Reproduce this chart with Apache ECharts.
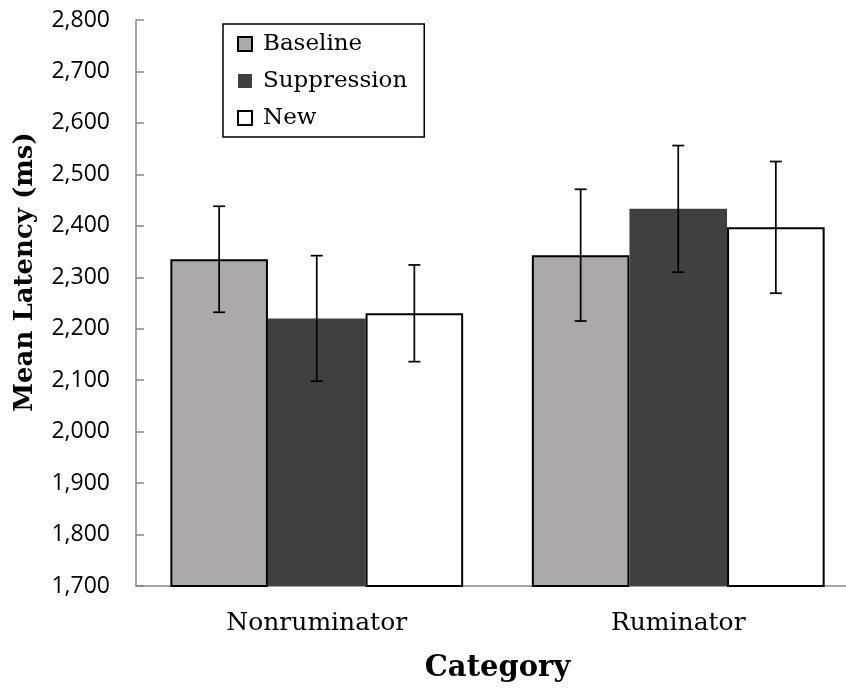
<!DOCTYPE html>
<html>
<head>
<meta charset="utf-8">
<script src="https://cdn.jsdelivr.net/npm/echarts@6/dist/echarts.min.js"></script>
<style>html,body{margin:0;padding:0;background:#fff;overflow:hidden;width:846px;height:691px;}#chart{width:859px;height:691px;}</style>
</head>
<body>
<div id="chart"></div>
<script>
const categories = ['Nonruminator', 'Ruminator'];
const seriesNames = ['Baseline', 'Suppression', 'New'];
const baseline = [2335, 2343];
const suppression = [2220, 2433];
const newVals = [2230, 2397];
const baselineErr = [103, 128];
const suppressionErr = [122, 123];
const newErr = [94, 128];
const yTicks = {min: 1700, max: 2800, interval: 100};

const colors = ['#ADA9A8', '#404040', '#FFFFFF'];
const borders = [{c:'#000', w:2}, {c:'#404040', w:0}, {c:'#000', w:2}];
const values = [baseline, suppression, newVals];
const errs = [baselineErr, suppressionErr, newErr];
const catGap = 0.19;

const chart = echarts.init(document.getElementById('chart'));

const barSeries = seriesNames.map((name, i) => ({
  name: name,
  type: 'bar',
  data: values[i],
  barGap: '0%',
  barCategoryGap: (catGap * 100) + '%',
  itemStyle: {color: colors[i], borderColor: borders[i].c, borderWidth: borders[i].w},
  z: 2
}));

const errSeries = seriesNames.map((name, i) => ({
  type: 'custom',
  name: name + ' err',
  data: values[i].map((v, k) => [k, v, errs[i][k]]),
  z: 5,
  silent: true,
  renderItem: function (params, api) {
    const k = api.value(0), v = api.value(1), e = api.value(2);
    const band = api.size([1, 0])[0];
    const bw = band * (1 - catGap) / 3;
    const c = api.coord([k, v]);
    const x = c[0] + (i - 1) * bw;
    const yHi = api.coord([k, v + e])[1];
    const yLo = api.coord([k, v - e])[1];
    const cap = 6;
    const st = {stroke: '#000', lineWidth: 1.7};
    return {
      type: 'group',
      children: [
        {type: 'line', shape: {x1: x, y1: yHi, x2: x, y2: yLo}, style: st},
        {type: 'line', shape: {x1: x - cap, y1: yHi, x2: x + cap, y2: yHi}, style: st},
        {type: 'line', shape: {x1: x - cap, y1: yLo, x2: x + cap, y2: yLo}, style: st}
      ]
    };
  }
}));

chart.setOption({
  animation: false,
  backgroundColor: '#fff',
  grid: {left: 136, top: 20, right: 0, height: 566},
  legend: {
    data: seriesNames.map(n => ({name: n, icon: 'rect'})),
    orient: 'vertical',
    left: 223, top: 24,
    padding: [7, 17, 6, 14],
    itemWidth: 14, itemHeight: 14,
    itemGap: 11,
    borderColor: '#000', borderWidth: 1.5,
    backgroundColor: '#fff',
    textStyle: {fontFamily: 'DejaVu Serif', fontSize: 23, color: '#000', lineHeight: 26, padding: [0, 0, 0, 6]}
  },
  xAxis: {
    type: 'category',
    data: categories,
    name: 'Category',
    nameLocation: 'middle',
    nameGap: 68,
    nameTextStyle: {fontFamily: 'DejaVu Serif', fontWeight: 'bold', fontSize: 29, color: '#000'},
    axisLine: {lineStyle: {color: '#888', width: 1.5}},
    axisTick: {show: false},
    axisLabel: {fontFamily: 'DejaVu Serif', fontSize: 25, color: '#000', margin: 25}
  },
  yAxis: {
    type: 'value',
    min: yTicks.min, max: yTicks.max, interval: yTicks.interval,
    name: 'Mean Latency (ms)',
    nameLocation: 'middle',
    nameGap: 98,
    nameTextStyle: {fontFamily: 'DejaVu Serif', fontWeight: 'bold', fontSize: 26, color: '#000', padding: [0, 0, 0, 62]},
    axisLine: {show: true, lineStyle: {color: '#888', width: 1.5}},
    axisTick: {show: true, inside: true, length: 8, lineStyle: {color: '#888', width: 1.5}},
    splitLine: {show: false},
    axisLabel: {fontFamily: 'Open Sans', fontSize: 23, color: '#000', margin: 26,
      formatter: v => v.toLocaleString('en-US')}
  },
  series: barSeries.concat(errSeries)
});
</script>
</body>
</html>
